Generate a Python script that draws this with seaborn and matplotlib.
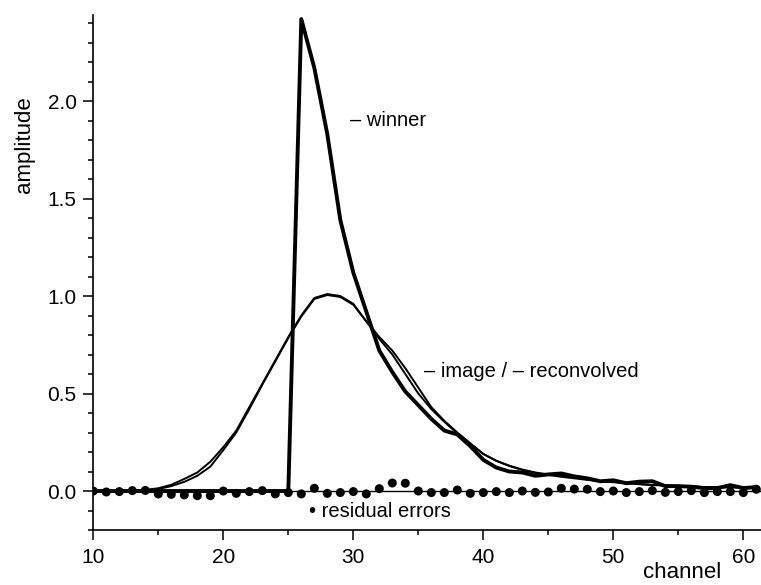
import numpy as np
import pandas as pd
import matplotlib
matplotlib.use('Agg')
import matplotlib.pyplot as plt
from matplotlib.ticker import MultipleLocator
import seaborn as sns

# channels 10..61
channel = list(range(10, 62))

winner = [0, 0, 0, 0, 0, 0, 0, 0, 0, 0,
          0, 0, 0, 0, 0, 0, 2.42, 2.17, 1.83, 1.39,
          1.12, 0.92, 0.72, 0.61, 0.51, 0.44, 0.37, 0.31, 0.29, 0.23,
          0.16, 0.12, 0.10, 0.095, 0.078, 0.085, 0.09, 0.075, 0.065, 0.05,
          0.055, 0.04, 0.048, 0.05, 0.025, 0.025, 0.022, 0.015, 0.015, 0.03,
          0.015, 0.02]

image = [0, 0, 0, 0.002, 0.006, 0.014, 0.032, 0.062, 0.095, 0.15,
         0.225, 0.31, 0.43, 0.55, 0.67, 0.79, 0.90, 0.99, 1.01, 1.0,
         0.96, 0.87, 0.79, 0.72, 0.63, 0.53, 0.43, 0.36, 0.30, 0.245,
         0.19, 0.155, 0.13, 0.11, 0.095, 0.085, 0.078, 0.07, 0.06, 0.05,
         0.047, 0.04, 0.036, 0.03, 0.03, 0.026, 0.025, 0.02, 0.02, 0.022,
         0.02, 0.02]

reconvolved = [0, 0, 0, 0.001, 0.004, 0.01, 0.025, 0.047, 0.078, 0.125,
               0.21, 0.30, 0.42, 0.545, 0.665, 0.785, 0.895, 0.985, 1.005, 0.995,
               0.955, 0.87, 0.78, 0.70, 0.60, 0.50, 0.42, 0.355, 0.295, 0.24,
               0.19, 0.155, 0.128, 0.108, 0.093, 0.082, 0.073, 0.065, 0.057, 0.05,
               0.045, 0.04, 0.035, 0.031, 0.028, 0.025, 0.022, 0.02, 0.019, 0.018,
               0.017, 0.016]

residual = [0, -0.005, -0.003, 0.002, 0.003, -0.015, -0.017, -0.02, -0.024, -0.024,
            0, -0.012, -0.003, 0.002, -0.015, -0.008, -0.015, 0.014, -0.012, -0.008,
            -0.003, -0.015, 0.012, 0.041, 0.04, 0, -0.008, -0.008, 0.005, -0.012,
            -0.008, -0.003, -0.008, 0, -0.007, -0.005, 0.014, 0.01, 0.009, -0.003,
            0, -0.008, -0.003, 0.002, -0.007, -0.003, 0.002, -0.008, -0.003, -0.003,
            -0.008, 0.009]

df = pd.DataFrame({'channel': channel, 'winner': winner, 'image': image,
                   'reconvolved': reconvolved, 'residual': residual})

sns.set_style('ticks')
plt.rcParams['font.family'] = ['Liberation Sans', 'DejaVu Sans']
plt.rcParams['text.color'] = 'black'
plt.rcParams['axes.labelcolor'] = 'black'
plt.rcParams['xtick.color'] = 'black'
plt.rcParams['ytick.color'] = 'black'

fig = plt.figure(figsize=(7.61, 5.85), dpi=100)
ax = fig.add_axes([0.1226, 0.094, 0.8774, 0.880])

ax.axhline(0, color='black', lw=1.0, zorder=1)
sns.lineplot(data=df, x='channel', y='image', color='black', lw=1.4, ax=ax)
sns.lineplot(data=df, x='channel', y='reconvolved', color='black', lw=1.4, ax=ax)
sns.lineplot(data=df, x='channel', y='winner', color='black', lw=2.8, ax=ax)
sns.scatterplot(data=df, x='channel', y='residual', color='black', s=42,
                edgecolor='none', ax=ax, zorder=3)

ax.set_xlim(10, 61.36)
ax.set_ylim(-0.2, 2.44)
ax.xaxis.set_major_locator(MultipleLocator(10))
ax.xaxis.set_minor_locator(MultipleLocator(5))
ax.yaxis.set_major_locator(MultipleLocator(0.5))
ax.yaxis.set_minor_locator(MultipleLocator(0.1))
ax.yaxis.set_major_formatter(matplotlib.ticker.FormatStrFormatter('%.1f'))
ax.tick_params(which='major', length=7, width=1.1, labelsize=15, color='black',
               labelcolor='black')
ax.tick_params(which='minor', length=3.5, width=1.1, color='black')
ax.tick_params(axis='x', pad=6)
ax.tick_params(axis='y', pad=5)
for s in ['top', 'right']:
    ax.spines[s].set_visible(False)
for s in ['left', 'bottom']:
    ax.spines[s].set_linewidth(1.2)
    ax.spines[s].set_color('black')

ax.set_xlabel('channel', fontsize=16, color='black')
ax.xaxis.set_label_coords(0.882, -0.062)
ax.set_ylabel('amplitude', fontsize=16, color='black')
ax.yaxis.set_label_coords(-0.087, 0.748)

ax.text(29.75, 1.90, '– winner', fontsize=14.5, va='center', ha='left')
ax.text(35.4, 0.612, '– image / – reconvolved', fontsize=14.5, va='center', ha='left')
ax.text(26.6, -0.106, '• residual errors', fontsize=14.5, va='center', ha='left')

fig.savefig('out.png', dpi=100)
